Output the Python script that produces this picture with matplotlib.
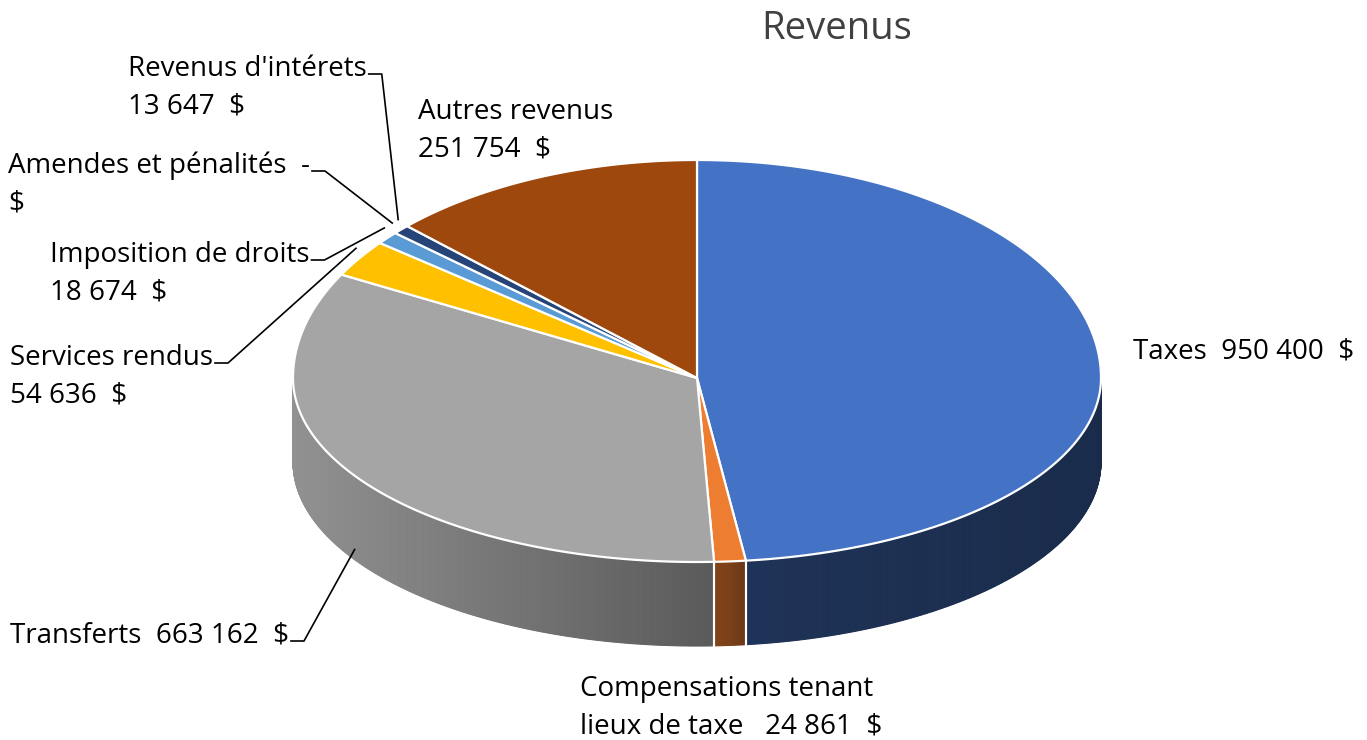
import numpy as np
import matplotlib.pyplot as plt
from matplotlib.colors import to_rgb

# donnees du graphique (ordre horaire depuis midi)
categories = ["Taxes", "Compensations tenant lieux de taxe", "Transferts",
              "Services rendus", "Imposition de droits", "Amendes et pénalités",
              "Revenus d'intérets", "Autres revenus"]
values = [950400, 24861, 663162, 54636, 18674, 0, 13647, 251754]
colors = ["#4472C4", "#ED7D31", "#A5A5A5", "#FFC000", "#5B9BD5", "#70AD47",
          "#264478", "#9E480E"]
# etiquettes telles qu'affichees (retour a la ligne d'Excel)
label_lines = [
    ["Taxes  950 400  $"],
    ["Compensations tenant", "lieux de taxe   24 861  $"],
    ["Transferts  663 162  $"],
    ["Services rendus", "54 636  $"],
    ["Imposition de droits", "18 674  $"],
    ["Amendes et pénalités  -", "$"],
    ["Revenus d'intérets", "13 647  $"],
    ["Autres revenus", "251 754  $"],
]
# position (x, ligne de base) de chaque etiquette, en pixels
label_pos = [(1133, 358), (580, 696), (10, 643), (10, 365), (50, 262),
             (8, 173), (128, 76), (418, 119)]
has_leader = [False, False, True, True, True, True, True, False]

FONT = ["Open Sans", "DejaVu Sans"]
plt.rcParams['font.family'] = FONT

# geometrie du camembert 3D (pixels)
cx, cy = 697, 378
a, b_back, b_front = 404, 218, 184
depth = 84


def ell(t_deg):
    t = np.radians(t_deg)
    s = np.sin(t)
    b = np.where(s > 0, b_back, b_front)
    return cx + a * np.cos(t), cy - b * s


def shade(x):
    return np.interp(x, [293, 710, 730, 745, 1100], [0.88, 0.55, 0.52, 0.45, 0.38])


vals = np.array(values, dtype=float)
total = vals.sum()
cum = np.cumsum(vals)
t_end = 90 - 360 * cum / total
t_start = 90 - 360 * (cum - vals) / total

fig = plt.figure(figsize=(13.67, 7.40), dpi=100)
ax = fig.add_axes([0, 0, 1, 1])
ax.set_xlim(0, 1367)
ax.set_ylim(740, 0)
ax.axis('off')

# parois laterales (partie avant visible: -180..0 degres)
for i in range(len(vals)):
    if vals[i] == 0:
        continue
    lo = max(t_end[i], -180)
    hi = min(t_start[i], 0)
    if hi <= lo:
        continue
    base = np.array(to_rgb(colors[i]))
    ts = np.linspace(lo, hi, max(2, int((hi - lo) * 3)))
    for k in range(len(ts) - 1):
        x0, y0 = ell(ts[k])
        x1, y1 = ell(ts[k + 1])
        c = np.clip(base * shade((x0 + x1) / 2), 0, 1)
        ax.fill([x0, x1, x1, x0], [y0, y1, y1 + depth, y0 + depth],
                color=c, lw=0.8, ec=c, zorder=1)
# separations blanches entre parois
for t in np.concatenate([t_start, t_end]):
    if -180 < t < 0:
        x, y = ell(t)
        ax.plot([x, x], [y, y + depth], color="white", lw=1.5, zorder=1.5)

# faces superieures
for i in range(len(vals)):
    if vals[i] == 0:
        continue
    ts = np.linspace(t_start[i], t_end[i], max(2, int(abs(t_start[i] - t_end[i]) * 3)))
    xs, ys = ell(ts)
    ax.fill(np.r_[cx, xs], np.r_[cy, ys], color=colors[i], ec="white", lw=1.6,
            zorder=2, joinstyle="round")

# etiquettes
first_texts = []
for i in range(len(vals)):
    x, y = label_pos[i]
    txts = []
    for j, line in enumerate(label_lines[i]):
        txts.append(ax.text(x, y + j * 37.5, line, fontsize=20, color="black",
                            va="baseline", ha="left", zorder=5))
    first_texts.append(txts[0])

ax.text(837, 39, "Revenus", fontsize=27.5, color="#404040", ha="center",
        va="baseline")

# lignes de rappel
fig.canvas.draw()
renderer = fig.canvas.get_renderer()
inv = ax.transData.inverted()
for i in range(len(vals)):
    if not has_leader[i]:
        continue
    bb = first_texts[i].get_window_extent(renderer)
    x_end, _ = inv.transform((bb.x1, bb.y0))
    y_line = label_pos[i][1] - 2
    tm = (t_start[i] + t_end[i]) / 2
    px, py = ell(tm)
    if np.sin(np.radians(tm)) < 0:
        py = py + depth * 0.88
    else:
        px = px + (px - cx) * 0.01
        py = py - 10
    ax.plot([x_end + 2, x_end + 15, px], [y_line, y_line, py], color="black",
            lw=1.2, zorder=4)

fig.savefig("out.png", dpi=100)
